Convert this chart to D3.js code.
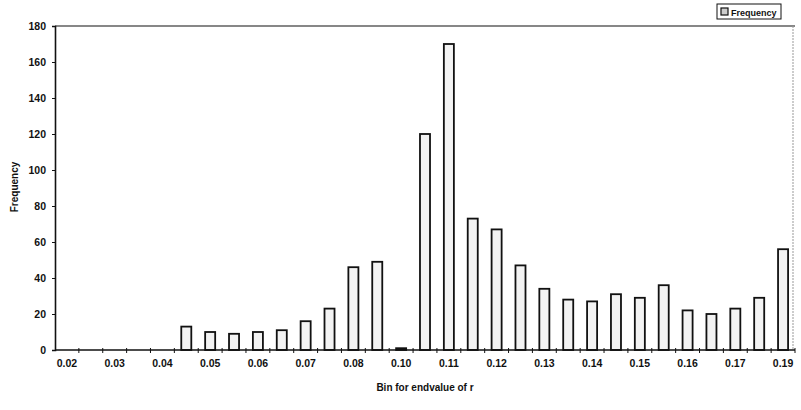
<!DOCTYPE html>
<html>
<head>
<meta charset="utf-8">
<script src="https://cdn.jsdelivr.net/npm/d3@7"></script>
<style>
  body { margin: 0; background: #fff; }
  text { font-family: "Liberation Sans", Arial, sans-serif; }
</style>
</head>
<body>
<div id="chart"></div>
<script>
// bins (31 of them, only every other one is labelled)
const bins = d3.range(31).map(i => "b" + i)
const binLabels = ["0.02","","0.03","","0.04","","0.05","","0.06","","0.07","","0.08","","0.10","",
                   "0.11","","0.12","","0.13","","0.14","","0.15","","0.16","","0.17","","0.19"]
const frequency = [0,0,0,0,0,13,10,9,10,11,16,23,46,49,1,120,170,73,67,47,34,28,27,31,29,36,22,20,23,29,56]
const yTicks = [0,20,40,60,80,100,120,140,160,180]

const margin = {top: 26, right: 6, bottom: 60, left: 55},
    width = 801 - margin.left - margin.right,
    height = 410 - margin.top - margin.bottom;

const root = d3.select("#chart").append("svg").attr("width", 801).attr("height", 410)
const svg = root.append("g").attr("transform", `translate(${margin.left},${margin.top})`)

const x = d3.scaleBand().domain(bins).range([0, width]).paddingInner(0.58).paddingOuter(0.29)
const xb = d3.scaleBand().domain(bins).range([0, width])  // for ticks on bin edges
const y = d3.scaleLinear().domain([0, 180]).range([height, 0])

// frame: top and right
svg.append("line").attr("x1", 0).attr("x2", width).attr("y1", 0).attr("y2", 0)
  .attr("stroke", "#111").attr("stroke-width", 1.2)
svg.append("line").attr("x1", width - 2).attr("x2", width - 2).attr("y1", 0).attr("y2", height)
  .attr("stroke", "#999").attr("stroke-width", 1).attr("stroke-dasharray", "2,1")

// bars
svg.selectAll(".bar").data(frequency).enter().append("rect")
  .attr("class", "bar")
  .attr("x", (d, i) => x(bins[i]))
  .attr("width", x.bandwidth())
  .attr("y", d => y(d))
  .attr("height", d => height - y(d))
  .attr("fill", "#f3f3f3")
  .attr("stroke", "#111")
  .attr("stroke-width", 1.8)
  .style("display", d => d > 0 ? null : "none")

// y axis
const yAxis = d3.axisLeft(y).tickValues(yTicks).tickSize(3).tickPadding(6)
const gy = svg.append("g").call(yAxis)
gy.select(".domain").attr("stroke", "#111").attr("stroke-width", 1.6)
gy.selectAll(".tick line").attr("stroke", "#111")
gy.selectAll("text").attr("font-size", 10.5).attr("font-weight", "bold").attr("fill", "#111")

// x axis
const gx = svg.append("g").attr("transform", `translate(0,${height})`)
gx.append("line").attr("x1", 0).attr("x2", width).attr("stroke", "#111").attr("stroke-width", 1.6)
gx.selectAll(".edge").data(bins.slice(1).concat(["end"])).enter().append("line")
  .attr("class", "edge")
  .attr("x1", (d, i) => i < 30 ? xb(d) : width)
  .attr("x2", (d, i) => i < 30 ? xb(d) : width)
  .attr("y1", -2).attr("y2", 3)
  .attr("stroke", "#111")
gx.selectAll(".lbl").data(bins).enter().append("text")
  .attr("class", "lbl")
  .attr("x", d => xb(d) + xb.bandwidth() / 2)
  .attr("y", 17)
  .attr("text-anchor", "middle")
  .attr("font-size", 10.5).attr("font-weight", "bold").attr("fill", "#111")
  .text((d, i) => binLabels[i])

// axis titles
root.append("text").attr("x", 425).attr("y", 391).attr("text-anchor", "middle")
  .attr("font-size", 10).attr("font-weight", "bold").attr("fill", "#111")
  .text("Bin for endvalue of r")
root.append("text").attr("transform", "translate(18,187) rotate(-90)").attr("text-anchor", "middle")
  .attr("font-size", 10).attr("font-weight", "bold").attr("fill", "#111")
  .text("Frequency")

// legend
const lg = root.append("g").attr("transform", "translate(717,4)")
lg.append("rect").attr("width", 64).attr("height", 15).attr("fill", "#fff").attr("stroke", "#111")
lg.append("rect").attr("x", 4).attr("y", 4).attr("width", 7).attr("height", 7)
  .attr("fill", "#ccc").attr("stroke", "#111").attr("stroke-width", 1.2)
lg.append("text").attr("x", 14).attr("y", 11.5).attr("font-size", 9).attr("font-weight", "bold")
  .attr("fill", "#111").text("Frequency")
</script>
</body>
</html>
